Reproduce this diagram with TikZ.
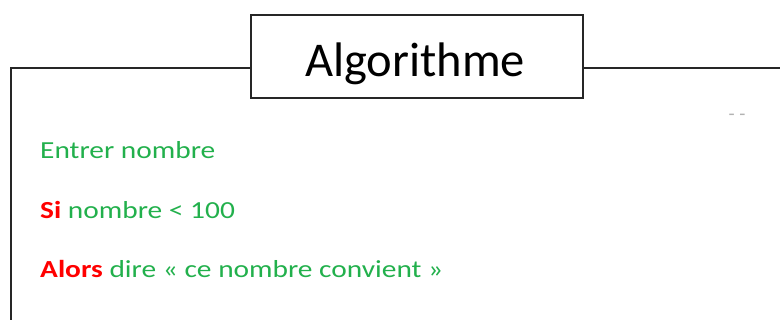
\documentclass[tikz,border=0pt]{standalone}
\usepackage{fontspec}
\setmainfont{Carlito}
\newfontfamily\bodyfont[FakeStretch=1.2]{Carlito}
\definecolor{algogreen}{HTML}{22B04C}
\definecolor{algored}{HTML}{FF0000}
\tikzset{
  frameline/.style={line width=2pt, draw=black!85},
  codeline/.style={anchor=base west, inner sep=0pt, text=algogreen, font=\bodyfont\fontsize{24.5}{28}\selectfont}
}
\newcommand{\kwd}[1]{\textbf{\textcolor{algored}{#1}}}
\begin{document}
\begin{tikzpicture}[x=1pt,y=-1pt]
\useasboundingbox (0,0) rectangle (780,320);
\node[frameline, draw, minimum width=332pt, minimum height=83pt, inner sep=0pt, anchor=north west] (title) at (250,14) {};
\node[anchor=base, inner sep=0pt, font=\fontsize{48.5}{56}\selectfont] (titletext) at (415,77) {Algorithme};
\coordinate (tl) at (11,68);
\coordinate (bl) at (11,330);
\coordinate (tr) at (790,68);
\draw[frameline] (bl) -- (tl) -- (title.west |- tl);
\draw[frameline] (title.east |- tr) -- (tr);
\node[codeline] (l1) at (40,158.5) {Entrer nombre};
\node[codeline] (l2) at (40,218.5) {\kwd{Si} nombre < 100};
\node[codeline] (l3) at (40,278) {\kwd{Alors} dire « ce nombre convient »};
\node[inner sep=0pt, text=gray!60, font=\fontsize{20}{24}\selectfont] (dash) at (737,117) {- -};
\end{tikzpicture}
\end{document}
